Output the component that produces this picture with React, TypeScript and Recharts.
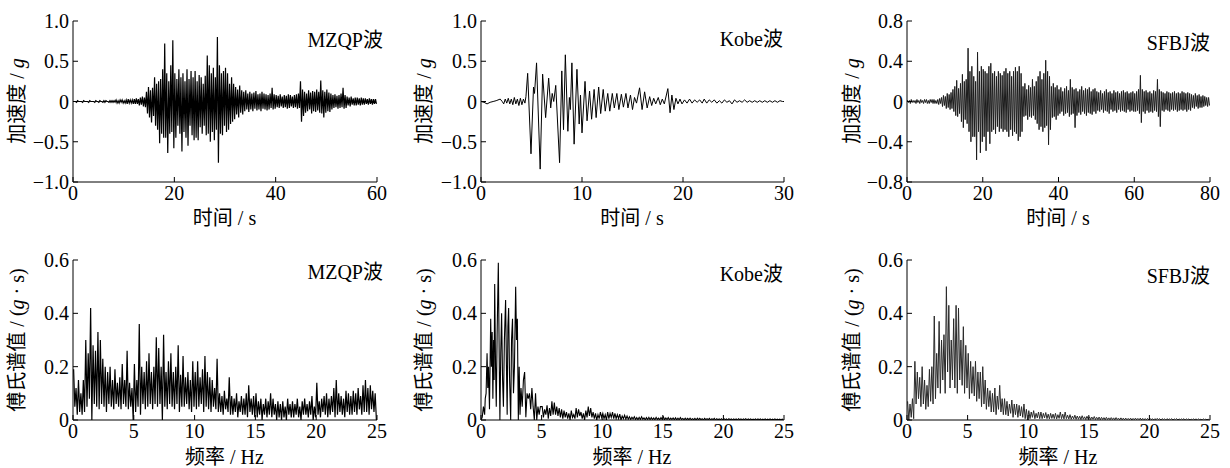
import React from 'react';
import { LineChart, Line, XAxis, YAxis } from 'recharts';

// MZQP accel, 0.4 s bins, upper / lower peak per bin (unit 0.01 g)
const mzqpHi = [
  0, 0, 1, 0, 0, 1, 0, 0, 1, 0, 0, 1, 0, 1, 0, 1, 1, 0, 1, 1,
  1, 2, 1, 2, 2, 1, 2, 3, 2, 2, 3, 4, 3, 5, 6, 5, 12, 18, 14, 17,
  30, 22, 25, 28, 40, 72, 35, 25, 45, 76, 35, 28, 40, 30, 35, 25, 40, 28, 38, 30,
  38, 25, 33, 30, 22, 32, 57, 45, 35, 42, 30, 80, 45, 35, 38, 42, 35, 22, 30, 22,
  18, 15, 20, 14, 12, 14, 10, 12, 10, 11, 13, 9, 10, 12, 10, 9, 8, 10, 17, 9,
  8, 7, 9, 6, 8, 7, 9, 8, 6, 8, 9, 10, 25, 15, 12, 10, 14, 11, 13, 12,
  15, 12, 26, 14, 12, 15, 11, 10, 8, 9, 7, 8, 10, 17, 8, 6, 5, 6, 4, 5,
  5, 4, 5, 4, 4, 3, 4, 3, 3, 3,
];
const mzqpLo = [
  0, 1, 0, 0, 1, 0, 0, 1, 0, 0, 1, 0, 1, 0, 1, 1, 0, 1, 1, 1,
  1, 2, 2, 1, 2, 2, 3, 2, 2, 3, 3, 3, 5, 4, 6, 7, 15, 20, 26, 18,
  30, 35, 52, 40, 45, 45, 64, 40, 38, 58, 45, 30, 40, 62, 38, 45, 55, 30, 42, 48,
  45, 48, 32, 40, 30, 42, 40, 50, 38, 48, 35, 76, 40, 42, 30, 38, 35, 28, 25, 22,
  16, 20, 14, 16, 12, 10, 13, 10, 12, 9, 11, 10, 12, 9, 10, 11, 10, 8, 10, 9,
  7, 8, 6, 8, 7, 9, 8, 6, 8, 7, 9, 8, 25, 18, 14, 12, 10, 15, 12, 13,
  11, 14, 15, 20, 14, 12, 13, 10, 8, 7, 9, 8, 7, 9, 8, 5, 6, 4, 5, 5,
  4, 5, 4, 4, 3, 4, 3, 4, 3, 3,
];

// Kobe accel, turning points [s, g]
const kobeWave: [number, number][] = [
  [0, 0], [0.3, -0.01], [0.6, -0.03], [0.9, -0.01], [1.2, 0], [1.5, 0.01], [1.9, 0.03], [2.1, 0],
  [2.25, -0.03], [2.4, 0.03], [2.55, -0.02], [2.7, 0.04], [2.85, -0.03], [3.0, 0.03], [3.15, -0.04],
  [3.3, 0.05], [3.45, -0.03], [3.6, 0.03], [3.75, -0.05], [3.9, 0.04], [4.05, -0.04], [4.2, 0.03],
  [4.35, -0.02], [4.45, 0.06], [4.62, 0.35], [4.95, -0.65], [5.2, 0.18], [5.3, 0.1], [5.5, 0.48],
  [5.86, -0.84], [6.1, 0.34], [6.4, -0.2], [6.7, 0.29], [6.9, -0.08], [7.05, 0.1], [7.2, 0],
  [7.4, 0.2], [7.78, -0.76], [8.0, 0.38], [8.17, -0.35], [8.35, 0.58], [8.6, -0.37], [8.75, 0.05],
  [8.85, -0.1], [9.0, 0.48], [9.22, -0.53], [9.5, 0.4], [9.72, -0.28], [9.85, 0.08], [10.0, -0.39],
  [10.3, 0.25], [10.5, -0.24], [10.75, 0.13], [10.95, -0.22], [11.2, 0.15], [11.4, -0.2],
  [11.65, 0.18], [11.85, -0.15], [12.1, 0.15], [12.3, -0.12], [12.55, 0.1], [12.75, -0.12],
  [13.0, 0.1], [13.2, -0.08], [13.45, 0.1], [13.65, -0.1], [13.9, 0.09], [14.1, -0.07],
  [14.35, 0.1], [14.55, -0.08], [14.8, 0.08], [15.0, -0.1], [15.2, 0.05], [15.4, -0.02],
  [15.7, 0.17], [15.95, -0.1], [16.2, 0.12], [16.45, -0.08], [16.7, 0.06], [16.9, -0.05],
  [17.1, 0.04], [17.3, -0.03], [17.55, 0.05], [17.75, -0.04], [17.95, 0.03], [18.15, -0.03],
  [18.5, 0.16], [18.72, -0.14], [18.9, 0.08], [19.1, -0.1], [19.3, 0.04], [19.5, -0.03],
  [19.7, 0.03], [19.9, -0.03], [20.15, 0.02], [20.4, -0.02], [20.65, 0.03], [20.9, -0.02],
  [21.15, 0.02], [21.4, -0.01], [21.65, 0.02], [21.9, -0.02], [22.1, 0.03], [22.35, -0.02],
  [22.6, 0.02], [22.85, -0.01], [23.1, 0.02], [23.35, -0.02], [23.6, 0.01], [23.85, -0.02],
  [24.1, 0.02], [24.35, -0.01], [24.6, 0.01], [24.85, -0.03], [25.1, 0.02], [25.35, -0.01],
  [25.6, 0.01], [25.85, -0.01], [26.1, 0.02], [26.35, -0.01], [26.6, 0.01], [26.85, -0.01],
  [27.1, 0.01], [27.35, -0.01], [27.6, 0.01], [27.85, -0.01], [28.1, 0.01], [28.35, -0.01],
  [28.6, 0.01], [28.85, -0.01], [29.1, 0.01], [29.35, -0.01], [29.6, 0.01], [29.85, 0], [30, 0],
];

// SFBJ accel, 0.5 s bins (unit 0.01 g)
const sfbjHi = [
  1, 1, 2, 1, 1, 2, 1, 2, 1, 2, 2, 1, 2, 2, 2, 1, 2, 3, 4, 6,
  5, 8, 7, 9, 12, 15, 21, 13, 18, 27, 20, 22, 53, 30, 35, 25, 20, 49, 30, 35,
  32, 30, 28, 35, 38, 28, 30, 25, 30, 28, 26, 30, 33, 28, 30, 25, 30, 34, 30, 35,
  28, 15, 18, 12, 16, 14, 22, 15, 20, 25, 30, 22, 28, 41, 30, 25, 15, 18, 14, 16,
  12, 14, 10, 13, 15, 11, 22, 14, 12, 13, 10, 12, 15, 11, 13, 12, 14, 10, 12, 13,
  10, 9, 11, 8, 10, 12, 9, 10, 8, 11, 9, 10, 8, 10, 11, 9, 10, 8, 9, 10,
  8, 10, 12, 26, 12, 10, 11, 9, 10, 8, 11, 10, 22, 12, 10, 9, 8, 10, 9, 8,
  9, 10, 8, 9, 8, 10, 9, 8, 9, 8, 7, 6, 8, 6, 7, 5, 6, 5, 4, 4,
];
const sfbjLo = [
  1, 2, 1, 1, 2, 1, 2, 1, 2, 1, 2, 2, 1, 2, 2, 2, 3, 2, 5, 4,
  7, 6, 8, 7, 10, 14, 15, 12, 20, 26, 18, 22, 30, 40, 35, 35, 58, 30, 51, 40,
  35, 49, 30, 42, 30, 28, 32, 25, 30, 27, 30, 28, 30, 35, 28, 34, 30, 32, 39, 35,
  30, 15, 14, 18, 15, 16, 14, 18, 22, 28, 25, 30, 26, 24, 43, 28, 16, 15, 18, 14,
  12, 10, 14, 12, 11, 15, 13, 12, 26, 14, 11, 13, 10, 12, 14, 11, 12, 13, 10, 12,
  9, 10, 8, 11, 9, 10, 12, 8, 10, 9, 11, 8, 10, 9, 10, 11, 8, 10, 9, 10,
  10, 9, 12, 21, 10, 12, 9, 11, 10, 11, 9, 10, 15, 25, 9, 10, 8, 9, 10, 8,
  9, 8, 10, 9, 8, 9, 8, 10, 8, 9, 6, 7, 5, 7, 6, 6, 5, 4, 5, 4,
];

// MZQP Fourier spectrum, 0.2 Hz bins (unit 0.01 g·s)
const mzqpSpecHi = [
  19, 12, 15, 10, 15, 30, 25, 42, 28, 26, 33, 30, 23, 20, 18, 20, 15, 19, 14, 16,
  21, 15, 26, 14, 12, 21, 15, 36, 20, 18, 22, 25, 18, 20, 31, 27, 20, 32, 18, 22,
  25, 18, 20, 28, 17, 24, 16, 18, 15, 22, 18, 22, 16, 19, 24, 18, 16, 15, 12, 23,
  10, 9, 11, 8, 16, 9, 8, 10, 7, 9, 8, 10, 13, 8, 9, 10, 7, 8, 6, 8,
  7, 10, 8, 6, 7, 6, 7, 5, 8, 6, 7, 6, 8, 5, 7, 8, 6, 7, 9, 5,
  14, 7, 8, 9, 10, 8, 9, 12, 15, 10, 9, 8, 11, 10, 9, 11, 10, 12, 9, 13,
  15, 12, 13, 11, 10,
];
const mzqpSpecLo = [
  5, 2, 3, 2, 3, 5, 8, 0, 6, 5, 4, 6, 5, 3, 6, 5, 4, 6, 5, 4,
  6, 5, 4, 5, 0, 3, 5, 2, 6, 4, 5, 6, 4, 6, 5, 6, 0, 5, 4, 6,
  5, 4, 6, 3, 5, 5, 6, 4, 3, 5, 4, 5, 6, 3, 5, 4, 3, 5, 4, 3,
  3, 2, 4, 3, 2, 2, 3, 1, 3, 2, 2, 1, 3, 2, 1, 1, 2, 0, 2, 1,
  2, 1, 2, 0, 1, 0, 1, 0, 2, 1, 1, 2, 1, 0, 2, 2, 1, 2, 0, 1,
  2, 1, 3, 2, 1, 2, 3, 1, 2, 3, 2, 1, 3, 2, 2, 3, 2, 4, 2, 3,
  3, 2, 4, 3, 0,
];

// Kobe spectrum: turning points below 5 Hz [Hz, g·s], then 0.2 Hz bins (unit 0.001)
const kobeSpecPeaks: [number, number][] = [
  [0, 0], [0.1, 0.01], [0.2, 0.05], [0.3, 0.02], [0.35, 0.08], [0.42, 0.1], [0.5, 0.25],
  [0.56, 0.12], [0.62, 0.2], [0.7, 0.04], [0.8, 0.38], [0.86, 0.2], [0.92, 0.33], [0.98, 0.08],
  [1.04, 0.3], [1.08, 0.15], [1.13, 0.51], [1.2, 0.2], [1.26, 0.05], [1.33, 0.32], [1.43, 0.59],
  [1.5, 0.25], [1.56, 0], [1.63, 0.25], [1.7, 0.4], [1.78, 0.15], [1.85, 0.05], [1.93, 0.3],
  [2.03, 0.45], [2.1, 0.2], [2.16, 0.02], [2.22, 0.35], [2.28, 0.42], [2.36, 0.15], [2.45, 0],
  [2.52, 0.3], [2.6, 0.38], [2.68, 0.1], [2.76, 0.2], [2.86, 0.5], [2.93, 0.3], [3.0, 0.38],
  [3.08, 0], [3.15, 0.2], [3.22, 0.02], [3.3, 0.12], [3.4, 0.05], [3.5, 0.15], [3.6, 0.18],
  [3.7, 0.01], [3.8, 0.1], [3.9, 0.08], [4.0, 0.1], [4.1, 0.04], [4.2, 0.12], [4.3, 0.05],
  [4.4, 0], [4.5, 0.1], [4.6, 0], [4.7, 0.05], [4.8, 0.02], [4.9, 0.05],
];
const kobeTailHi = [
  50, 40, 55, 45, 70, 65, 50, 45, 40, 35, 30, 25, 35, 20, 45, 40, 30, 25, 35, 50,
  45, 30, 25, 20, 30, 25, 20, 30, 25, 30, 25, 20, 22, 15, 18, 15, 12, 10, 12, 9,
  10, 12, 8, 9, 10, 9, 8, 10, 7, 9, 12, 8, 9, 7, 8, 8, 7, 9, 6, 7,
  6, 7, 5, 6, 7, 6, 5, 6, 5, 6, 5, 6, 5, 4, 5, 5, 4, 5, 4, 4,
  4, 5, 4, 4, 5, 4, 4, 3, 4, 4, 4, 3, 4, 3, 4, 3, 4, 3, 3, 3,
];
const kobeTailLo = [
  10, 20, 5, 15, 20, 20, 15, 10, 5, 10, 5, 0, 10, 5, 10, 15, 5, 0, 10, 15,
  10, 5, 0, 5, 10, 5, 0, 5, 10, 5, 5, 5, 0, 5, 3, 3, 2, 4, 2, 1,
  2, 3, 1, 2, 1, 2, 1, 2, 1, 2, 1, 2, 1, 2, 1, 1, 1, 2, 1, 1,
  1, 1, 1, 0, 1, 1, 0, 1, 1, 0, 1, 0, 1, 1, 0, 1, 0, 1, 0, 1,
  0, 1, 0, 1, 0, 1, 0, 1, 0, 1, 0, 1, 0, 1, 0, 1, 0, 1, 0, 1,
];

// SFBJ spectrum, 0.2 Hz bins (unit 0.001 g·s)
const sfbjSpecHi = [
  70, 60, 80, 220, 180, 160, 200, 150, 130, 190, 200, 390, 250, 370, 300, 320, 500, 430, 300, 380,
  430, 420, 300, 350, 280, 250, 220, 200, 220, 180, 180, 200, 150, 120, 110, 100, 120, 90, 130, 80,
  80, 70, 60, 75, 60, 60, 55, 50, 60, 40, 35, 30, 35, 25, 30, 30, 25, 28, 22, 25,
  22, 25, 20, 30, 22, 30, 18, 20, 15, 18, 15, 14, 16, 12, 14, 12, 11, 13, 10, 11,
  10, 9, 10, 8, 9, 8, 9, 7, 8, 7, 7, 6, 7, 6, 7, 6, 7, 6, 5, 6,
  6, 5, 5, 6, 5, 5, 4, 5, 4, 5, 4, 5, 4, 4, 5, 4, 4, 3, 4, 4,
  4, 3, 4, 3, 3,
];
const sfbjSpecLo = [
  0, 10, 5, 60, 80, 50, 60, 40, 50, 70, 60, 80, 120, 100, 150, 100, 180, 120, 150, 120,
  100, 150, 130, 100, 120, 80, 100, 90, 70, 80, 50, 60, 40, 50, 30, 30, 20, 40, 30, 20,
  20, 15, 25, 10, 20, 10, 15, 10, 5, 0, 5, 10, 5, 8, 5, 5, 8, 5, 4, 6,
  5, 4, 6, 5, 4, 5, 4, 3, 4, 3, 3, 2, 3, 2, 3, 2, 3, 2, 2, 1,
  2, 1, 2, 1, 2, 1, 2, 1, 1, 1, 1, 1, 0, 1, 1, 1, 0, 1, 1, 0,
  1, 0, 1, 1, 0, 1, 0, 1, 1, 0, 1, 0, 1, 1, 0, 1, 0, 1, 1, 0,
  1, 0, 1, 1, 0,
];

const FONT = '"Liberation Serif", "Noto Sans CJK SC", serif';

type Pt = { x: number; y: number };

// one up/down stroke per bin
function zigzag(hi: number[], lo: number[], step: number, unit: number, loSign: number, start = 0): Pt[] {
  const pts: Pt[] = [];
  hi.forEach((h, i) => {
    pts.push({ x: start + (i + 0.25) * step, y: h * unit });
    pts.push({ x: start + (i + 0.75) * step, y: loSign * lo[i] * unit });
  });
  return pts;
}

const fromPairs = (p: [number, number][]): Pt[] => p.map(([x, y]) => ({ x, y }));

const mzqpData = [{ x: 0, y: 0 }, ...zigzag(mzqpHi, mzqpLo, 0.4, 0.01, -1)];
const kobeData = fromPairs(kobeWave);
const sfbjData = [{ x: 0, y: 0 }, ...zigzag(sfbjHi, sfbjLo, 0.5, 0.01, -1)];
const mzqpSpec = zigzag(mzqpSpecHi, mzqpSpecLo, 0.2, 0.01, 1);
const kobeSpec = [...fromPairs(kobeSpecPeaks), ...zigzag(kobeTailHi, kobeTailLo, 0.2, 0.001, 1, 5)];
const sfbjSpec = zigzag(sfbjSpecHi, sfbjSpecLo, 0.2, 0.001, 1);

const fmtY = (v: number) => (v === 0 ? '0' : (v < 0 ? '\u2212' : '') + Math.abs(v).toFixed(1));

const YW = 48;
const MT = 12;
const MR = 12;
const XH = 30;

function Panel(props: {
  left: number; top: number; w: number; h: number; data: Pt[];
  xMax: number; xTicks: number[]; yMin: number; yMax: number; yTicks: number[];
  stroke?: string; sw?: number;
}) {
  const { left, top, w, h, data, xMax, xTicks, yMin, yMax, yTicks, stroke = '#000', sw = 1.2 } = props;
  const tick = { fill: '#000', fontSize: 20, fontFamily: FONT };
  return (
    <div style={{ position: 'absolute', left: left - YW, top: top - MT }}>
      <LineChart width={YW + w + MR} height={MT + h + XH} data={data} margin={{ top: MT, right: MR, bottom: 0, left: 0 }}>
        <XAxis dataKey="x" type="number" domain={[0, xMax]} ticks={xTicks} interval={0} height={XH}
          axisLine={{ stroke: '#000' }} tickLine={{ stroke: '#000' }} tickSize={-5} tickMargin={9} tick={tick} allowDataOverflow />
        <YAxis type="number" domain={[yMin, yMax]} ticks={yTicks} interval={0} width={YW}
          axisLine={{ stroke: '#000' }} tickLine={{ stroke: '#000' }} tickSize={-5} tickMargin={9} tick={tick}
          tickFormatter={fmtY} allowDataOverflow />
        <Line dataKey="y" stroke={stroke} strokeWidth={sw} strokeLinejoin="miter" dot={false} isAnimationActive={false} />
      </LineChart>
    </div>
  );
}

const textBase: React.CSSProperties = {
  position: 'absolute', fontFamily: FONT, fontSize: 20, color: '#000', whiteSpace: 'nowrap', lineHeight: '20px',
};

function YTitle({ x, y, children }: { x: number; y: number; children: React.ReactNode }) {
  return (
    <div style={{ ...textBase, left: x, top: y, transform: 'translate(-50%, -50%) rotate(-90deg)' }}>{children}</div>
  );
}

function Centered({ x, y, children }: { x: number; y: number; children: React.ReactNode }) {
  return <div style={{ ...textBase, left: x, top: y, transform: 'translate(-50%, -50%)' }}>{children}</div>;
}

function RightText({ right, y, children }: { right: number; y: number; children: React.ReactNode }) {
  return <div style={{ ...textBase, left: right, top: y, transform: 'translate(-100%, -50%)' }}>{children}</div>;
}

const cols = [
  { left: 72.5, w: 304, ytx: 17 },
  { left: 480.5, w: 303, ytx: 424 },
  { left: 906.5, w: 303, ytx: 852 },
];
const TOP1 = 20.5;
const H1 = 161;
const TOP2 = 259.5;
const H2 = 160;

export default function App() {
  const accTitle = <span>加速度 / <i>g</i></span>;
  const specTitle = <span>傅氏谱值 / (<i>g</i> · s)</span>;
  return (
    <div style={{ position: 'absolute', left: 0, top: 0, width: 1230, height: 468, background: '#fff', overflow: 'hidden' }}>
      <Panel left={cols[0].left} top={TOP1} w={cols[0].w} h={H1} data={mzqpData} xMax={60} xTicks={[0, 20, 40, 60]}
        yMin={-1} yMax={1} yTicks={[-1, -0.5, 0, 0.5, 1]} />
      <Panel left={cols[1].left} top={TOP1} w={cols[1].w} h={H1} data={kobeData} xMax={30} xTicks={[0, 10, 20, 30]}
        yMin={-1} yMax={1} yTicks={[-1, -0.5, 0, 0.5, 1]} sw={1} />
      <Panel left={cols[2].left} top={TOP1} w={cols[2].w} h={H1} data={sfbjData} xMax={80} xTicks={[0, 20, 40, 60, 80]}
        yMin={-0.8} yMax={0.8} yTicks={[-0.8, -0.4, 0, 0.4, 0.8]} stroke="#1c1c1c" sw={1} />
      <Panel left={cols[0].left} top={TOP2} w={cols[0].w} h={H2} data={mzqpSpec} xMax={25} xTicks={[0, 5, 10, 15, 20, 25]}
        yMin={0} yMax={0.6} yTicks={[0, 0.2, 0.4, 0.6]} />
      <Panel left={cols[1].left} top={TOP2} w={cols[1].w} h={H2} data={kobeSpec} xMax={25} xTicks={[0, 5, 10, 15, 20, 25]}
        yMin={0} yMax={0.6} yTicks={[0, 0.2, 0.4, 0.6]} sw={1.1} />
      <Panel left={cols[2].left} top={TOP2} w={cols[2].w} h={H2} data={sfbjSpec} xMax={25} xTicks={[0, 5, 10, 15, 20, 25]}
        yMin={0} yMax={0.6} yTicks={[0, 0.2, 0.4, 0.6]} stroke="#2a2a2a" sw={1} />

      {cols.map((c) => (
        <React.Fragment key={c.left}>
          <YTitle x={c.ytx} y={101}>{accTitle}</YTitle>
          <YTitle x={c.ytx} y={340}>{specTitle}</YTitle>
          <Centered x={c.left + c.w / 2} y={218}>时间 / s</Centered>
          <Centered x={c.left + c.w / 2} y={457}>频率 / Hz</Centered>
        </React.Fragment>
      ))}

      <RightText right={383} y={40}>MZQP波</RightText>
      <RightText right={783} y={39}>Kobe波</RightText>
      <RightText right={1210} y={43}>SFBJ波</RightText>
      <RightText right={383} y={272}>MZQP波</RightText>
      <RightText right={783} y={274}>Kobe波</RightText>
      <RightText right={1210} y={276}>SFBJ波</RightText>
    </div>
  );
}
